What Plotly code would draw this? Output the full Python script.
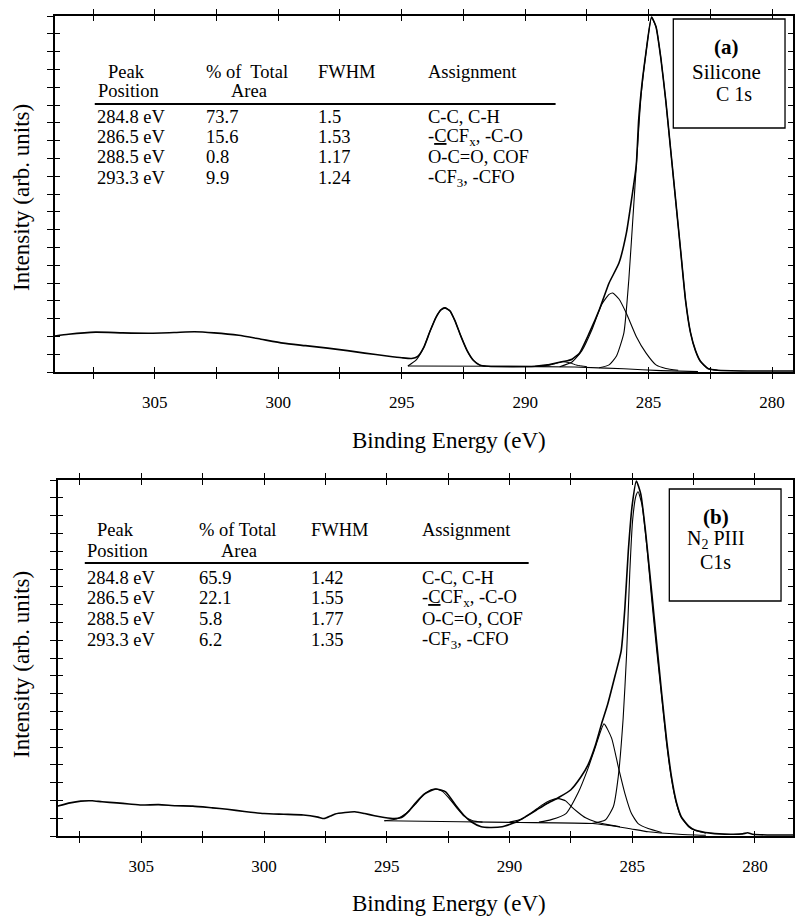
import plotly.graph_objects as go

W, H = 795, 918

# ---------------- Panel (a): Silicone C 1s ----------------
a_raw_x = [309.05, 308.5, 307.4, 306.3, 305.2, 304.2, 303.4, 302.6, 301.6, 300.7, 299.8, 298.9, 298.0,
           297.2, 296.5, 295.6, 295.0, 294.6, 294.35, 294.1, 293.85, 293.6, 293.4, 293.25, 293.05, 292.85,
           292.6, 292.35, 292.1, 291.85, 291.5, 290.5, 289.6, 289.1, 288.7, 288.4, 288.1, 287.8, 287.4,
           287.0, 286.6, 286.2, 285.9, 285.7, 285.5, 285.4, 285.25, 285.1, 284.88, 284.7, 284.5, 284.3,
           284.1, 283.9, 283.7, 283.5, 283.3, 283.1, 282.9, 282.6, 282.2, 281.0, 280.0, 279.15]
a_raw_y = [10.1, 10.6, 11.2, 11.0, 10.9, 11.1, 11.3, 11.0, 10.3, 9.2, 8.1, 7.4, 6.7,
           6.0, 5.3, 4.5, 4.0, 3.8, 4.4, 7.0, 11.5, 15.5, 17.5, 18.0, 17.2, 14.5,
           10.0, 6.0, 3.3, 2.0, 1.6, 1.5, 1.6, 2.0, 2.6, 3.0, 3.6, 5.3, 11.0,
           17.4, 25.0, 30.6, 39.0, 48.0, 58.0, 71.0, 82.0, 90.0, 99.7, 97.0, 88.0, 76.0,
           62.0, 48.0, 34.0, 20.0, 11.0, 6.0, 3.0, 1.0, 0.5, 0.3, 0.3, 0.3]

a_c293_x = [294.75, 294.4, 294.1, 293.85, 293.6, 293.4, 293.25, 293.05, 292.85, 292.6, 292.35, 292.1, 291.85, 291.6]
a_c293_y = [1.7, 3.5, 7.0, 11.5, 15.5, 17.5, 18.0, 17.2, 14.5, 10.0, 6.0, 3.3, 2.0, 1.6]

a_c288_x = [289.6, 289.1, 288.8, 288.5, 288.2, 287.9, 287.5]
a_c288_y = [1.6, 1.8, 2.3, 2.9, 2.6, 1.9, 1.5]

a_c286_x = [288.6, 288.1, 287.7, 287.3, 286.9, 286.6, 286.45, 286.2, 285.9, 285.5, 285.1, 284.7, 284.3, 283.8]
a_c286_y = [1.5, 2.8, 6.0, 11.8, 19.0, 21.8, 22.2, 20.5, 16.5, 10.0, 5.3, 2.0, 1.0, 0.5]

a_c284_x = [287.0, 286.6, 286.3, 286.0, 285.8, 285.6, 285.45, 285.3, 285.1, 284.88, 284.7, 284.5, 284.3,
            284.1, 283.9, 283.7, 283.5, 283.3, 283.1, 282.9, 282.6, 282.2]
a_c284_y = [1.2, 2.0, 4.5, 11.0, 26.0, 47.0, 63.0, 78.0, 90.0, 99.5, 97.0, 88.0, 76.0,
            62.0, 48.0, 34.0, 20.0, 11.0, 6.0, 3.0, 1.0, 0.5]

a_bg_x = [294.75, 291.0, 288.0, 286.0, 284.5, 283.0]
a_bg_y = [1.7, 1.6, 1.4, 0.9, 0.4, 0.1]

# ---------------- Panel (b): N2 PIII C1s ----------------
b_raw_x = [308.4, 307.9, 307.47, 307.0, 306.6, 306.0, 305.5, 305.0, 304.3, 303.6, 302.9, 302.1, 301.5,
           300.8, 300.0, 299.2, 298.4, 297.8, 297.55, 297.3, 297.1, 296.7, 296.3, 295.9, 295.5, 295.1,
           294.7, 294.4, 294.1, 293.84, 293.42, 293.0, 292.6, 292.2, 291.87, 291.56, 291.15, 290.8,
           290.3, 289.7, 289.3, 288.9, 288.5, 288.0, 287.5, 287.1, 286.8, 286.5, 286.25, 286.0, 285.7,
           285.45, 285.3, 285.16, 285.0, 284.83, 284.65, 284.45, 284.2, 284.0, 283.8, 283.6, 283.4,
           283.2, 283.0, 282.7, 282.45, 281.8, 281.0, 280.5, 280.3, 280.1, 279.5, 278.45]
b_raw_y = [8.4, 9.3, 9.8, 9.9, 9.6, 9.3, 9.0, 8.7, 8.8, 8.5, 8.4, 7.9, 7.5,
           6.9, 6.3, 6.1, 5.9, 5.3, 4.9, 5.6, 6.2, 6.6, 6.8, 6.3, 5.7, 5.2,
           4.9, 5.2, 7.0, 9.2, 12.0, 13.2, 12.4, 8.7, 5.9, 4.0, 2.6, 2.4,
           2.6, 4.0, 5.6, 7.3, 9.0, 10.8, 13.0, 16.5, 20.0, 25.5, 31.5, 37.0, 45.0,
           52.0, 64.0, 80.0, 93.0, 99.7, 96.0, 85.0, 68.0, 54.0, 40.0, 27.0, 16.6,
           9.5, 5.4, 2.8, 1.7, 0.8, 0.5, 0.6, 0.9, 0.5, 0.3, 0.3]

b_c293_x = [295.1, 294.6, 294.2, 293.85, 293.5, 293.2, 293.0, 292.75, 292.45, 292.15, 291.85, 291.5, 291.1]
b_c293_y = [4.3, 4.8, 6.4, 8.8, 11.6, 13.0, 13.2, 12.6, 10.5, 7.9, 5.6, 4.3, 3.9]

b_c288_x = [290.0, 289.5, 289.1, 288.7, 288.35, 288.0, 287.7, 287.47, 287.2, 286.9, 286.5, 286.0, 285.5]
b_c288_y = [3.9, 4.8, 6.5, 8.6, 10.0, 10.5, 9.8, 8.2, 6.6, 5.1, 4.0, 3.2, 2.6]

b_c286_x = [288.8, 288.3, 287.7, 287.2, 286.8, 286.5, 286.15, 285.84, 285.57, 285.3, 285.03, 284.76, 284.35, 283.8]
b_c286_y = [3.9, 4.6, 6.3, 12.2, 19.0, 25.0, 31.5, 27.5, 19.5, 12.0, 6.3, 3.5, 2.1, 1.0]

b_c284_x = [286.65, 286.1, 285.77, 285.57, 285.37, 285.23, 285.1, 284.98, 284.85, 284.76, 284.6, 284.4,
            284.2, 284.0, 283.8, 283.6, 283.4, 283.2, 283.0, 282.7, 282.45, 282.0]
b_c284_y = [3.5, 4.5, 8.2, 16.6, 33.0, 51.0, 74.0, 89.0, 95.5, 96.7, 93.0, 81.0,
            66.0, 52.0, 39.0, 26.0, 16.0, 9.2, 5.2, 2.6, 1.6, 0.8]

b_bg_x = [295.1, 292.0, 289.6, 286.6, 285.2, 284.35, 283.1, 282.0]
b_bg_y = [4.3, 4.0, 3.8, 3.5, 2.2, 1.2, 0.5, 0.2]

# ---------------- Axis ticks ----------------
x_tick_vals = [307.5, 305, 302.5, 300, 297.5, 295, 292.5, 290, 287.5, 285, 282.5, 280]
x_tick_text = ['', '305', '', '300', '', '295', '', '290', '', '285', '', '280']

# ---------------- Tables ----------------
tbl_positions = ['284.8 eV', '286.5 eV', '288.5 eV', '293.3 eV']
tbl_assign = ['C-C, C-H', '-<u>C</u>CF<sub>x</sub>, -C-O', 'O-C=O, COF', '-CF<sub>3</sub>, -CFO']
a_area = ['73.7', '15.6', '0.8', '9.9']
a_fwhm = ['1.5', '1.53', '1.17', '1.24']
b_area = ['65.9', '22.1', '5.8', '6.2']
b_fwhm = ['1.42', '1.55', '1.77', '1.35']

SERIF = 'Liberation Serif, Times New Roman, serif'


def px(x):
    return x / W


def py(y):
    return 1 - y / H


fig = go.Figure()


def add_line(xs, ys, xa, ya, width):
    fig.add_trace(go.Scatter(x=xs, y=ys, xaxis=xa, yaxis=ya, mode='lines',
                             line=dict(color='black', width=width, shape='spline', smoothing=0.5),
                             hoverinfo='skip', showlegend=False))


# panel a
add_line(a_bg_x, a_bg_y, 'x', 'y', 1.1)
add_line(a_c293_x, a_c293_y, 'x', 'y', 1.1)
add_line(a_c288_x, a_c288_y, 'x', 'y', 1.0)
add_line(a_c286_x, a_c286_y, 'x', 'y', 1.1)
add_line(a_c284_x, a_c284_y, 'x', 'y', 1.1)
add_line(a_raw_x, a_raw_y, 'x', 'y', 1.6)
# panel b
add_line(b_bg_x, b_bg_y, 'x2', 'y2', 1.1)
add_line(b_c293_x, b_c293_y, 'x2', 'y2', 1.1)
add_line(b_c288_x, b_c288_y, 'x2', 'y2', 1.1)
add_line(b_c286_x, b_c286_y, 'x2', 'y2', 1.1)
add_line(b_c284_x, b_c284_y, 'x2', 'y2', 1.1)
add_line(b_raw_x, b_raw_y, 'x2', 'y2', 1.6)

# dummy traces for overlay (inside-tick) axes
for xa, ya in [('x3', 'y'), ('x', 'y3'), ('x4', 'y2'), ('x2', 'y4')]:
    fig.add_trace(go.Scatter(x=[None], y=[None], xaxis=xa, yaxis=ya, mode='lines',
                             hoverinfo='skip', showlegend=False))

panels = {
    'a': dict(left=55, right=795, top=16, bottom=372, xr=[309.05, 279.15]),
    'b': dict(left=58, right=795, top=480, bottom=836, xr=[308.4, 278.45]),
}

tickfont = dict(family=SERIF, size=17, color='black')

layout = dict(
    width=W, height=H, autosize=False,
    margin=dict(l=0, r=0, t=0, b=0),
    paper_bgcolor='white', plot_bgcolor='white',
    showlegend=False,
)

for key, xn, yn, xo, yo in [('a', 'xaxis', 'yaxis', 'xaxis3', 'yaxis3'),
                             ('b', 'xaxis2', 'yaxis2', 'xaxis4', 'yaxis4')]:
    p = panels[key]
    yid = 'y' if key == 'a' else 'y2'
    xid = 'x' if key == 'a' else 'x2'
    layout[xn] = dict(domain=[px(p['left']), px(p['right'])], anchor=yid, range=p['xr'],
                      tickmode='array', tickvals=x_tick_vals, ticktext=x_tick_text,
                      ticks='outside', ticklen=5, tickwidth=1.3, tickcolor='black',
                      showline=True, linecolor='black', linewidth=1.6, mirror='allticks',
                      showgrid=False, zeroline=False, tickfont=tickfont, ticklabelstandoff=9)
    layout[yn] = dict(domain=[py(p['bottom']), py(p['top'])], anchor=xid, range=[0, 100],
                      tickmode='linear', tick0=0, dtick=5,
                      ticks='outside', ticklen=6, tickwidth=1.3, tickcolor='black',
                      showline=True, linecolor='black', linewidth=1.6, mirror=True,
                      showgrid=False, zeroline=False, showticklabels=False)
    layout[xo] = dict(overlaying=xid, anchor=yid, range=p['xr'],
                      tickmode='array', tickvals=x_tick_vals, ticktext=['' for _ in x_tick_vals],
                      ticks='inside', ticklen=5, tickwidth=1.3, tickcolor='black',
                      showline=False, mirror='allticks', showgrid=False, zeroline=False,
                      showticklabels=False)
    layout[yo] = dict(overlaying=yid, anchor=xid, range=[0, 100],
                      tickmode='linear', tick0=0, dtick=5,
                      ticks='inside', ticklen=5, tickwidth=1.3, tickcolor='black',
                      showline=False, mirror='ticks', showgrid=False, zeroline=False,
                      showticklabels=False)

fig.update_layout(**layout)

annotations = []
shapes = []


def txt(x, y, s, size=18.5, anchor='left', bold=False):
    if bold:
        s = '<b>' + s + '</b>'
    annotations.append(dict(x=px(x), y=py(y), xref='paper', yref='paper', text=s,
                            showarrow=False, xanchor=anchor, yanchor='middle',
                            font=dict(family=SERIF, size=size, color='black')))


# axis titles
for yc, xt in [(197, 440), (664, 903)]:
    annotations.append(dict(x=px(21), y=py(yc), xref='paper', yref='paper',
                            text='Intensity (arb. units)', textangle=-90, showarrow=False,
                            xanchor='center', yanchor='middle',
                            font=dict(family=SERIF, size=23, color='black')))
    annotations.append(dict(x=px(450), y=py(xt), xref='paper', yref='paper',
                            text='Binding Energy (eV)', showarrow=False,
                            xanchor='center', yanchor='middle',
                            font=dict(family=SERIF, size=23, color='black')))

# tables
tables = [
    dict(c1=95, c1h=106, c1h2=96, c2=205, c2h2=230, c3=317, c4=427, h1=72, h2=91, rule=104,
         rule_x=(95, 557), rows=[117, 137, 157, 178], area=a_area, fwhm=a_fwhm,
         hdr2='% of\u00a0 Total'),
    dict(c1=85, c1h=95, c1h2=85, c2=197, c2h2=220, c3=310, c4=421, h1=530, h2=551, rule=563,
         rule_x=(85, 530), rows=[578, 598, 619, 640], area=b_area, fwhm=b_fwhm,
         hdr2='% of Total'),
]
for t in tables:
    txt(t['c1h'], t['h1'], 'Peak')
    txt(t['c1h2'], t['h2'], 'Position')
    txt(t['c2'], t['h1'], t['hdr2'])
    txt(t['c2h2'], t['h2'], 'Area')
    txt(t['c3'], t['h1'], 'FWHM')
    txt(t['c4'], t['h1'], 'Assignment')
    shapes.append(dict(type='line', xref='paper', yref='paper',
                       x0=px(t['rule_x'][0]), x1=px(t['rule_x'][1]),
                       y0=py(t['rule']), y1=py(t['rule']),
                       line=dict(color='black', width=1.8)))
    for i, yy in enumerate(t['rows']):
        txt(t['c1'], yy, tbl_positions[i])
        txt(t['c2'], yy, t['area'][i])
        txt(t['c3'], yy, t['fwhm'][i])
        txt(t['c4'], yy, tbl_assign[i])

# label boxes
boxes = [
    dict(x0=675, x1=787, y0=19, y1=128, lines=[('(a)', 728, 47, True, 21), ('Silicone', 728, 72, False, 21),
                                                ('C 1s', 736, 94, False, 20)]),
    dict(x0=671, x1=783, y0=489, y1=601, lines=[('(b)', 718, 517, True, 21),
                                                 ('N<sub>2</sub> PIII', 718, 539, False, 20),
                                                 ('C1s', 717, 562, False, 20)]),
]
for b in boxes:
    shapes.append(dict(type='rect', xref='paper', yref='paper',
                       x0=px(b['x0']), x1=px(b['x1']), y0=py(b['y1']), y1=py(b['y0']),
                       line=dict(color='black', width=1.3), fillcolor='white', layer='above'))
    for s, x, y, bold, size in b['lines']:
        txt(x, y, s, size=size, anchor='center', bold=bold)

fig.update_layout(annotations=annotations, shapes=shapes)
fig.write_html('out.html', config={'displayModeBar': False},
               post_script="document.body.style.margin='0';document.body.style.padding='0';")
